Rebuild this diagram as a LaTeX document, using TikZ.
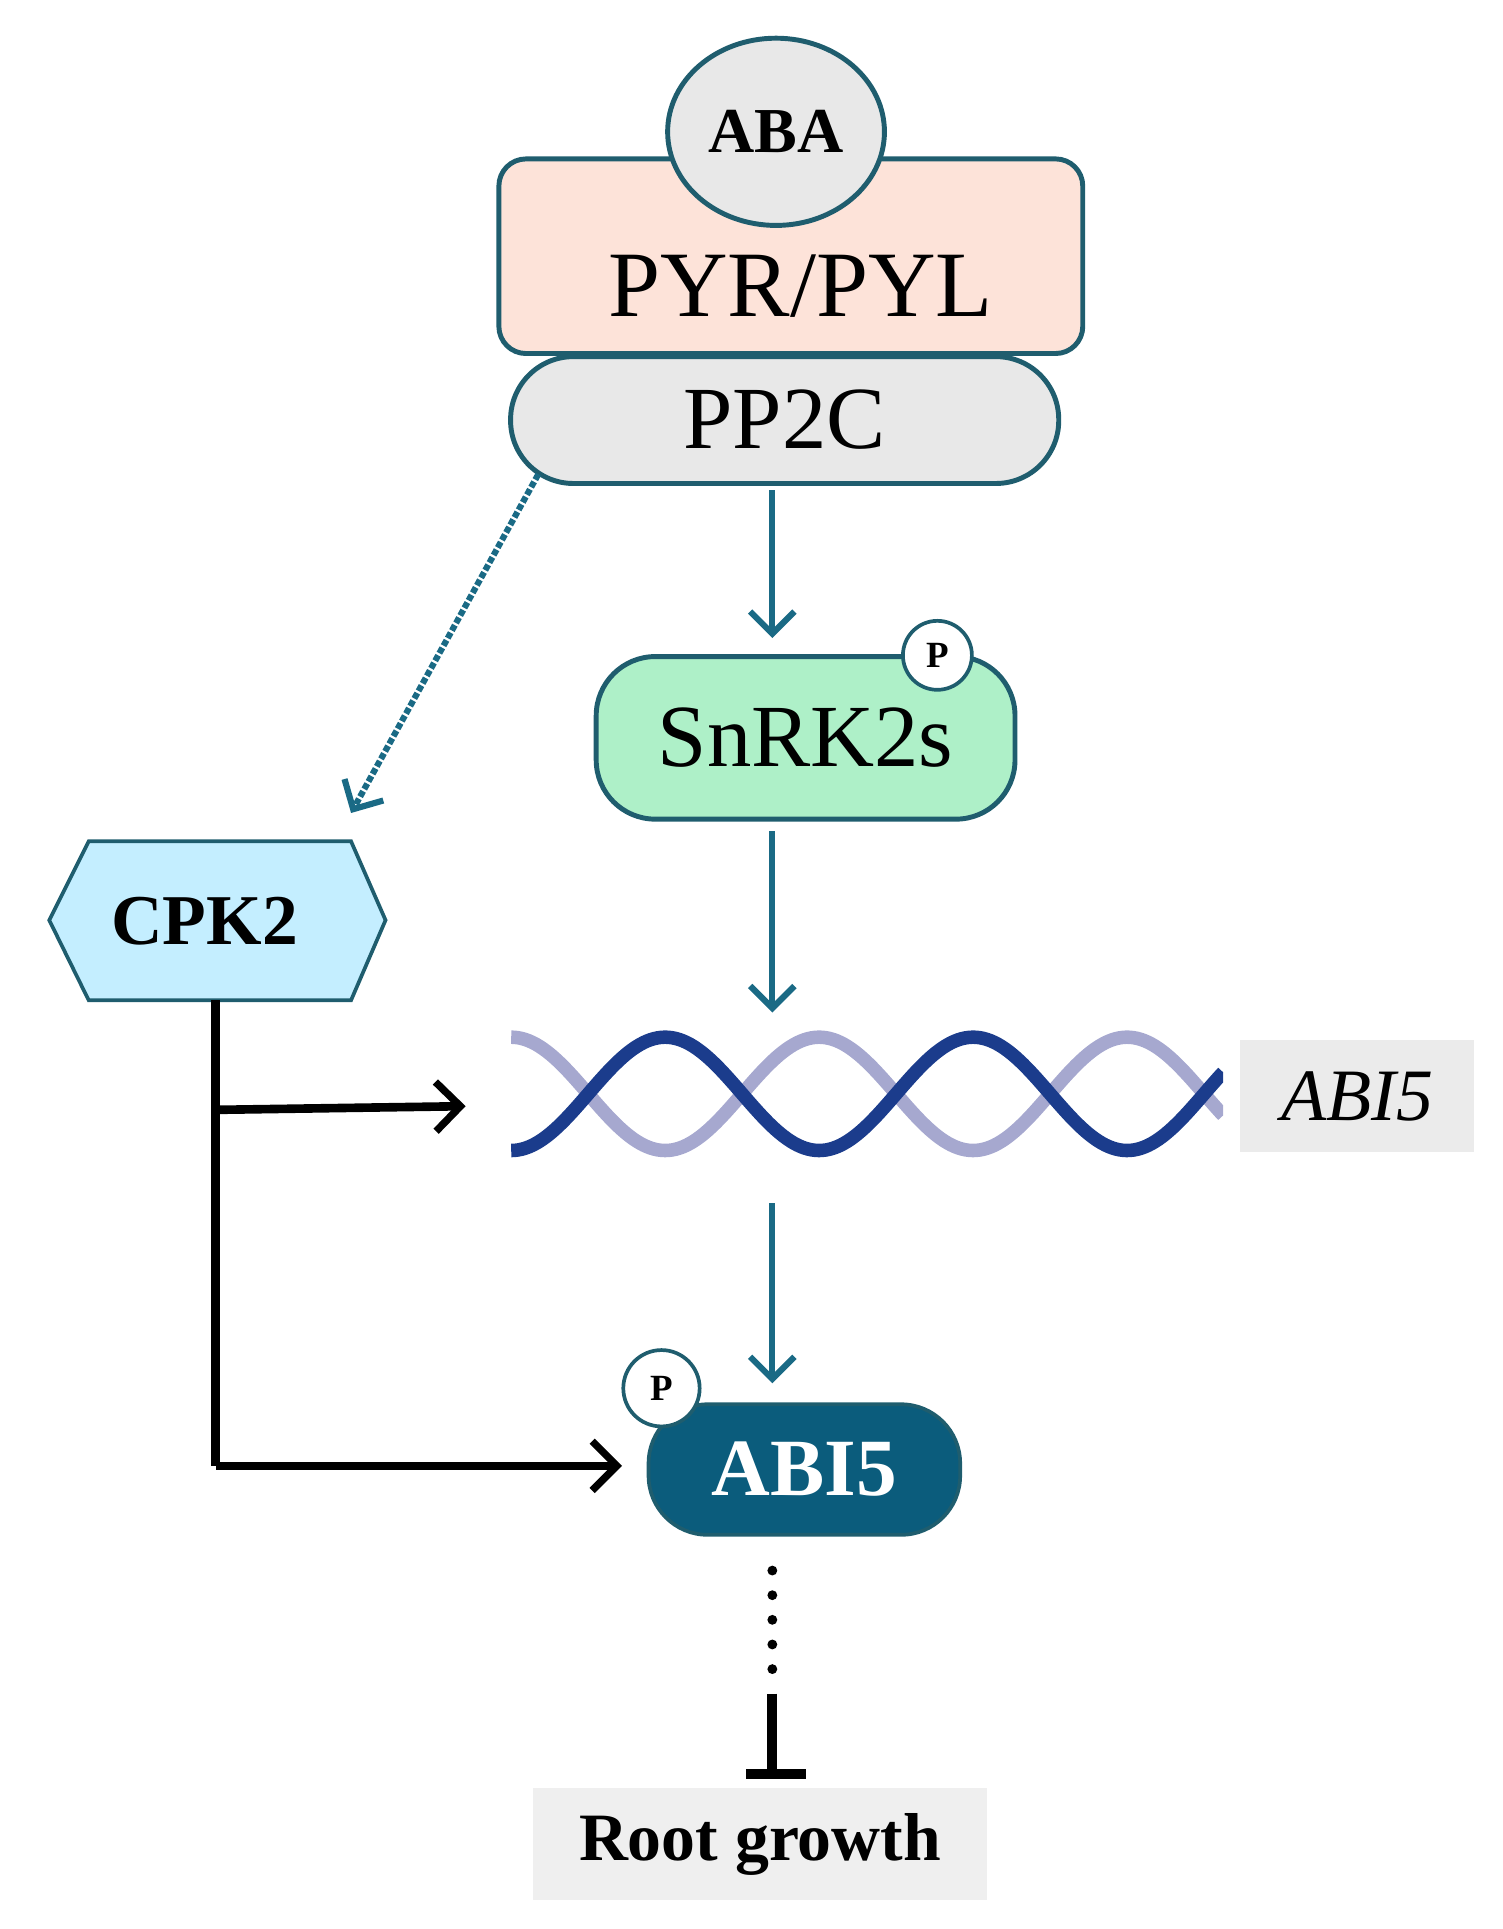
\documentclass[tikz,border=0pt]{standalone}
\usepackage{fontspec}
\setmainfont{Liberation Serif}
\usetikzlibrary{arrows.meta,shapes.geometric}
\definecolor{edge}{HTML}{1F5D6E}
\definecolor{teal}{HTML}{1A6A85}
\definecolor{dark}{HTML}{0B5C7C}
\definecolor{dna1}{HTML}{1B3C8C}
\definecolor{dna2}{HTML}{A6A8CF}
\newcommand{\fs}[1]{\fontsize{#1}{#1}\selectfont}
\begin{document}
\begin{tikzpicture}[x=1pt,y=-1pt,
  box/.style={draw=edge,line width=4pt},
  tarrow/.style={draw=teal,line width=5pt,-{Straight Barb[length=18pt,width=36pt,line width=5pt]}},
  barrow/.style={draw=black,line width=7pt,-{Straight Barb[length=20pt,width=40pt,line width=6pt]}},
  pcirc/.style={circle,draw=edge,line width=3pt,fill=white,minimum size=56pt,inner sep=0pt,font=\fs{30}\bfseries}]
\useasboundingbox (0,0) rectangle (1220,1566);
% PYR/PYL
\node[box,fill={rgb,255:red,253;green,227;blue,217},rounded corners=22pt,minimum width=474pt,minimum height=158pt,anchor=north west] (pyr) at (403,127) {};
\node[font=\fs{76}] (pyrt) at (650,232) {PYR/PYL};
\node[box,ellipse,fill={rgb,255:red,232;green,232;blue,232},minimum width=176pt,minimum height=152pt,inner sep=0pt,font=\fs{52}\bfseries] (aba) at (630,107) {ABA};
% PP2C
\node[box,fill={rgb,255:red,232;green,232;blue,232},rounded corners=51pt,minimum width=445pt,minimum height=103pt,font=\fs{72}] (pp2c) at (637,341) {PP2C};
% SnRK2s
\node[box,fill={rgb,255:red,174;green,240;blue,200},rounded corners=48pt,minimum width=340pt,minimum height=132pt,font=\fs{72}] (snrk) at (654,599) {SnRK2s};
\node[pcirc] (p1) at (761,532) {P};
% DNA
\begin{scope}
\clip (415,830) rectangle (993,945);
\draw[dna2,line width=11pt,domain=415:993,samples=200] plot (\x,{888-46*cos(1.44*(\x-665))});
\draw[dna1,line width=11pt,domain=415:993,samples=200] plot (\x,{888-46*cos(1.44*(\x-540))});
\end{scope}
\coordinate (dnaL) at (378,898);
\coordinate (dnaT) at (627,822);
\coordinate (dnaB) at (627,977);
\node[fill={rgb,255:red,235;green,235;blue,235},minimum width=190pt,minimum height=91pt,font=\fs{60}\itshape] (abi5g) at (1102,890) {ABI5};
% ABI5 protein
\node[draw=edge,line width=3pt,fill=dark,rounded corners=48pt,minimum width=253pt,minimum height=106pt,text=white,font=\fs{66}\bfseries] (abi5) at (653,1193) {ABI5};
\node[pcirc,minimum size=62pt] (p2) at (537,1127) {P};
% CPK2
\draw[edge,line width=3pt,fill={rgb,255:red,196;green,238;blue,255}] (40,747) -- (72,683) -- (285,683) -- (313,747) -- (285,812) -- (72,812) -- cycle;
\node[font=\fs{58}\bfseries] (cpk) at (166,748) {CPK2};
% Root growth
\node[fill={rgb,255:red,239;green,239;blue,239},minimum width=369pt,minimum height=91pt,font=\fs{55}\bfseries] (root) at (617,1497) {Root growth};
% connectors
\coordinate (s1) at (627,398);
\coordinate (s1e) at (627,518);
\coordinate (s2) at (627,675);
\coordinate (s3e) at (627,1123);
\draw[tarrow] (s1) -- (s1e);
\draw[tarrow] (s2) -- (dnaT);
\draw[tarrow] (dnaB) -- (s3e);
\coordinate (d1) at (437,385);
\coordinate (d2) at (285,660);
\draw[teal,line width=5pt,dotted,-{Straight Barb[length=18pt,width=36pt,line width=5pt]}] (d1) -- (d2);
\coordinate (cb) at (175,812);
\coordinate (cc) at (175,1190);
\coordinate (cm) at (175,901);
\coordinate (ae) at (505,1190);
\draw[black,line width=7pt] (cb) -- (cc);
\draw[barrow] (cc) -- (ae);
\draw[barrow] (cm) -- (dnaL);
\coordinate (r1) at (627,1275);
\coordinate (r2) at (627,1360);
\coordinate (r3) at (627,1375);
\coordinate (r4) at (627,1440);
\draw[black,line width=8pt,line cap=round,dash pattern=on 0pt off 20pt] (r1) -- (r2);
\draw[black,line width=8pt] (r3) -- (r4);
\draw[black,line width=8pt] (606,1440) -- (654,1440);
\end{tikzpicture}
\end{document}
